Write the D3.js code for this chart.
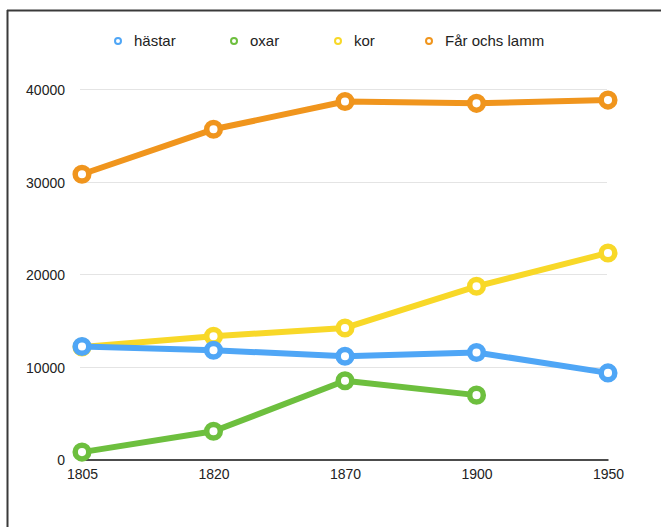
<!DOCTYPE html>
<html>
<head>
<meta charset="utf-8">
<script src="https://cdn.jsdelivr.net/npm/d3@7"></script>
<style>
  html, body { margin: 0; padding: 0; background: #fff; }
  svg { display: block; }
  text { font-family: "Liberation Sans", Arial, Helvetica, sans-serif; fill: #222; }
</style>
</head>
<body>
<svg id="chart" width="661" height="527"></svg>
<script>
const years = ["1805", "1820", "1870", "1900", "1950"];
const seriesNames = ["hästar", "oxar", "kor", "Får ochs lamm"];
const seriesColors = ["#4FA6F6", "#6DBF3E", "#F8D828", "#F0951D"];
const hastar = [12200, 11800, 11150, 11550, 9350];
const oxar = [800, 3050, 8500, 6950, null];
const kor = [12150, 13300, 14200, 18700, 22300];
const farOchLamm = [30800, 35650, 38650, 38450, 38800];
const yTicks = [0, 10000, 20000, 30000, 40000];

const seriesValues = [hastar, oxar, kor, farOchLamm];
const drawOrder = [1, 2, 0, 3];

const svg = d3.select("#chart");

// frame lines
svg.append("line").attr("x1", 7.5).attr("x2", 7.5).attr("y1", 10).attr("y2", 527)
  .attr("stroke", "#3a3a3a").attr("stroke-width", 2);
svg.append("line").attr("x1", 7).attr("x2", 661).attr("y1", 10.5).attr("y2", 10.5)
  .attr("stroke", "#3a3a3a").attr("stroke-width", 2);

const x = d3.scalePoint().domain(years).range([82, 608]);
const y = d3.scaleLinear().domain([0, 40000]).range([459.5, 89]);

// grid
const grid = svg.append("g");
grid.selectAll("line").data(yTicks.filter(d => d > 0)).join("line")
  .attr("x1", 80).attr("x2", 607)
  .attr("y1", d => Math.round(y(d)) + 0.5).attr("y2", d => Math.round(y(d)) + 0.5)
  .attr("stroke", "#e4e4e4").attr("stroke-width", 1);

// y axis labels
const yAxis = d3.axisLeft(y).tickValues(yTicks).tickSize(0).tickPadding(0).tickFormat(d3.format("d"));
const yg = svg.append("g").attr("transform", "translate(65,1)").call(yAxis);
yg.select(".domain").remove();
yg.selectAll("text").attr("font-size", "14px").attr("fill", "#1a1a1a")
  .style("font-family", "'Liberation Sans', Arial, sans-serif");

// x axis
const xAxis = d3.axisBottom(x).tickSize(0).tickPadding(10);
const xg = svg.append("g").attr("transform", `translate(0,${y(0)})`).call(xAxis);
xg.select(".domain").attr("stroke", "#111").attr("stroke-width", 1.6);
xg.selectAll("text").attr("font-size", "14px").attr("fill", "#1a1a1a")
  .style("font-family", "'Liberation Sans', Arial, sans-serif");

// lines & markers
const line = d3.line()
  .defined(d => d.v !== null)
  .x(d => x(d.year))
  .y(d => y(d.v));

drawOrder.forEach(i => {
  const vals = seriesValues[i];
  const pts = years.map((yr, j) => ({ year: yr, v: vals[j] }));
  const g = svg.append("g");
  g.append("path").datum(pts).attr("d", line)
    .attr("fill", "none").attr("stroke", seriesColors[i]).attr("stroke-width", 6)
    .attr("stroke-linejoin", "round").attr("stroke-linecap", "round");
  g.selectAll("circle").data(pts.filter(d => d.v !== null)).join("circle")
    .attr("cx", d => x(d.year)).attr("cy", d => y(d.v)).attr("r", 6.8)
    .attr("fill", "#fff").attr("stroke", seriesColors[i]).attr("stroke-width", 5.5);
});

// legend
const legendX = [118, 234, 338, 429];
const lg = svg.append("g");
seriesNames.forEach((name, i) => {
  lg.append("circle").attr("cx", legendX[i]).attr("cy", 41).attr("r", 3)
    .attr("fill", "#fff").attr("stroke", seriesColors[i]).attr("stroke-width", 2);
  lg.append("text").attr("x", legendX[i] + 16).attr("y", 41).attr("dy", "0.35em")
    .attr("font-size", "15px").text(name);
});
</script>
</body>
</html>
